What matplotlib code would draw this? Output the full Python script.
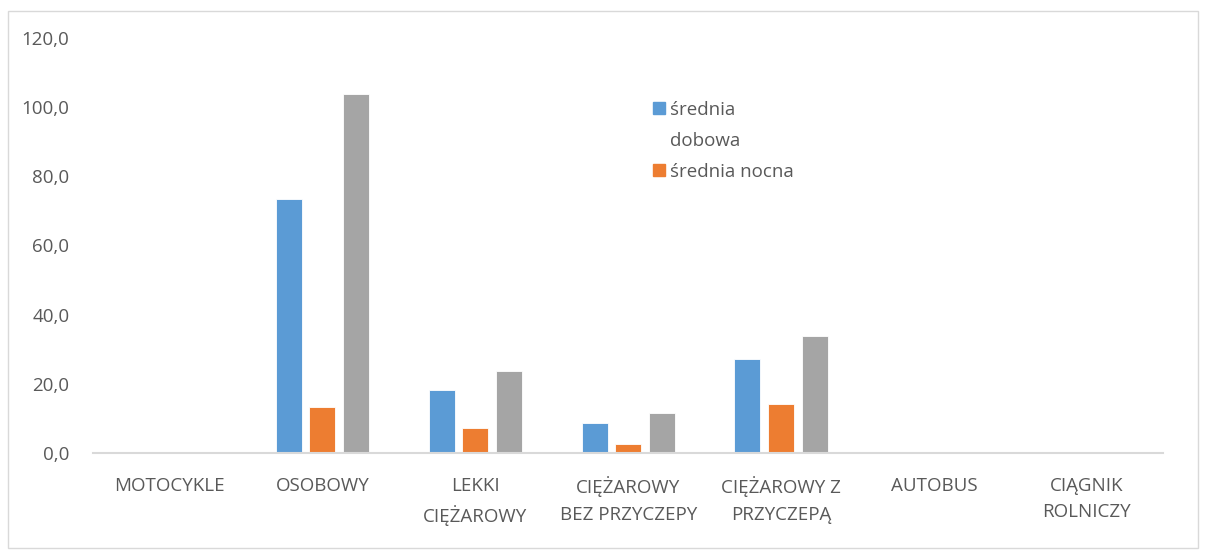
import numpy as np
import matplotlib.pyplot as plt
from matplotlib.patches import Rectangle, Patch

plt.rcParams['font.family'] = ['Open Sans', 'DejaVu Sans']

categories = ['MOTOCYKLE', 'OSOBOWY', 'LEKKI\nCIĘŻAROWY', 'CIĘŻAROWY\nBEZ PRZYCZEPY',
              'CIĘŻAROWY Z\nPRZYCZEPĄ', 'AUTOBUS', 'CIĄGNIK\nROLNICZY']
dobowa = [0.0, 73.4, 18.2, 8.6, 27.2, 0.0, 0.0]
nocna = [0.0, 13.3, 7.2, 2.5, 14.2, 0.3, 0.0]
trzecia = [0.0, 103.8, 23.7, 11.5, 33.8, 0.0, 0.0]
yticks = [0, 20, 40, 60, 80, 100, 120]

text_color = '#595959'
c_blue, c_orange, c_gray = '#5B9BD5', '#ED7D31', '#A5A5A5'
fs = 13.5

fig = plt.figure(figsize=(12.08, 5.51), dpi=100)
ax = fig.add_axes([0.077, 0.178, 0.886, 0.753])

x = np.arange(len(categories))
w = 0.17
step = 0.22
ax.bar(x - step, dobowa, w, color=c_blue, edgecolor='white', linewidth=0.6)
ax.bar(x, nocna, w, color=c_orange, edgecolor='white', linewidth=0.6)
ax.bar(x + step, trzecia, w, color=c_gray, edgecolor='white', linewidth=0.6)

ax.set_xlim(-0.5, len(categories) - 0.5)
ax.set_ylim(0, 120)
ax.set_yticks(yticks)
ax.set_yticklabels([f'{v:.1f}'.replace('.', ',') for v in yticks])
ax.set_xticks(x)
ax.set_xticklabels(categories, linespacing=1.6)
ax.tick_params(axis='y', length=0, pad=17, labelsize=fs, colors=text_color)
ax.tick_params(axis='x', length=0, pad=17, labelsize=fs, colors=text_color)

for s in ['top', 'right', 'left']:
    ax.spines[s].set_visible(False)
ax.spines['bottom'].set_color('#D9D9D9')
ax.spines['bottom'].set_linewidth(1.5)

handles = [Patch(color=c_blue), Patch(color='none'), Patch(color=c_orange)]
labels = ['średnia', 'dobowa', 'średnia nocna']
leg = ax.legend(handles, labels, loc='upper left', bbox_to_anchor=(0.507, 0.89), frameon=False,
                fontsize=fs, handlelength=0.65, handleheight=0.65, handletextpad=0.3,
                labelspacing=0.7)
for t in leg.get_texts():
    t.set_color(text_color)

fig.patches.append(Rectangle((0.007, 0.005), 0.985, 0.975, transform=fig.transFigure,
                             fill=False, edgecolor='#D9D9D9', linewidth=1))

fig.savefig('out.png', dpi=100)
